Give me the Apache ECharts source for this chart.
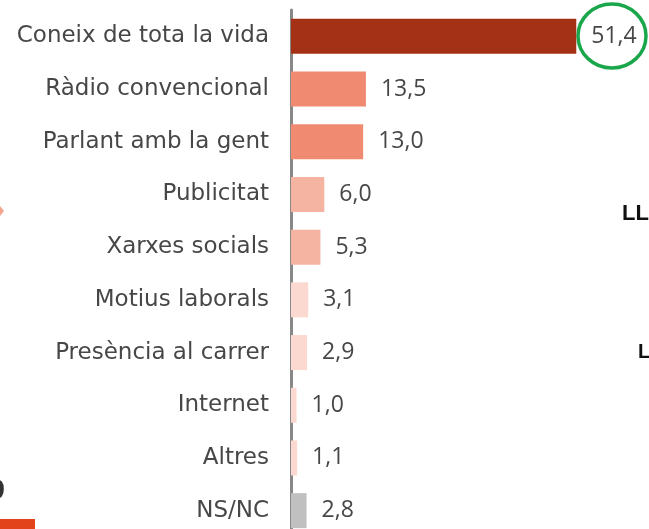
<!DOCTYPE html>
<html>
<head>
<meta charset="utf-8">
<script src="https://cdn.jsdelivr.net/npm/echarts@6/dist/echarts.min.js"></script>
<style>
  html, body { margin: 0; padding: 0; background: #fff; overflow: hidden; }
  #chart { width: 649px; height: 545px; }
</style>
</head>
<body>
<div id="chart"></div>
<script>
// Com va conèixer... — horizontal bar chart, percentages
var categories = [
  "Coneix de tota la vida", "Ràdio convencional", "Parlant amb la gent",
  "Publicitat", "Xarxes socials", "Motius laborals", "Presència al carrer",
  "Internet", "Altres", "NS/NC"
];
var values = [51.4, 13.5, 13.0, 6.0, 5.3, 3.1, 2.9, 1.0, 1.1, 2.8];
var barColors = [
  "#a43016", "#f08b72", "#f08b72", "#f5b3a1", "#f5b3a1",
  "#fbd9d0", "#fbd9d0", "#fbd9d0", "#fbd9d0", "#c0c0c0"
];

(function () {
  "use strict";
  var TXT = "#474747";

  function fmt(n) { return n.toFixed(1).replace(".", ","); }

  var chart = echarts.init(document.getElementById("chart"), null, { renderer: "canvas" });

  chart.setOption({
    backgroundColor: "#fff",
    animation: false,
    grid: { left: 291, top: 10, bottom: 8, right: 25 },
    xAxis: {
      type: "value", min: 0, max: 60, show: false
    },
    yAxis: {
      type: "category", data: categories, inverse: true,
      axisLine: { show: true, lineStyle: { color: "#888", width: 3 } },
      axisTick: { show: false },
      axisLabel: { color: TXT, fontSize: 23, fontFamily: "'DejaVu Sans', sans-serif", margin: 22 }
    },
    series: [{
      type: "bar",
      barWidth: 35,
      data: values.map(function (v, i) {
        return { value: v, itemStyle: { color: barColors[i] } };
      }),
      label: {
        show: true, position: "right", distance: 15,
        color: TXT, fontSize: 23, fontFamily: "'Open Sans', sans-serif",
        formatter: function (p) { return fmt(p.value); }
      }
    }],
    graphic: [
      // highlight round the top value
      { type: "ellipse", shape: { cx: 612, cy: 36, rx: 34, ry: 32 },
        style: { fill: "none", stroke: "#1aa64a", lineWidth: 3.5 } },
      // cropped neighbours at the edges of the slide
      { type: "polygon", shape: { points: [[0, 206], [4, 211], [0, 216]] },
        style: { fill: "#f4a58c" } },
      { type: "text", style: { text: "0", x: 5, y: 492, align: "right", verticalAlign: "middle",
        font: "bold 26px 'DejaVu Sans'", fill: "#333" } },
      { type: "rect", shape: { x: 0, y: 519, width: 35, height: 12 },
        style: { fill: "#e2431b" } },
      { type: "text", style: { text: "LLO", x: 622, y: 214, verticalAlign: "middle",
        font: "bold 22px 'Liberation Sans'", fill: "#111" } },
      { type: "text", style: { text: "LA", x: 638, y: 352, verticalAlign: "middle",
        font: "bold 20px 'Liberation Sans'", fill: "#111" } }
    ]
  });
})();
</script>
</body>
</html>
